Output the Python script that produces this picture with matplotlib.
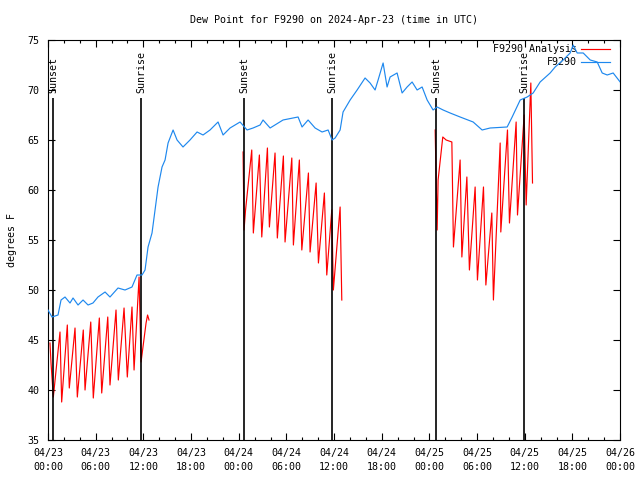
import datetime as dt
import matplotlib
matplotlib.use("Agg")
import matplotlib.pyplot as plt
import matplotlib.dates as mdates

start = dt.datetime(2024, 4, 23)

# observed dew point, hours after 04/23 00:00 UTC
obs_hours = [0.0, 0.5, 1.26, 1.64, 2.14, 2.77, 3.15, 3.78, 4.41, 5.04, 5.66,
             6.29, 7.18, 7.80, 8.81, 9.69, 10.57, 11.20, 11.83, 12.21, 12.59,
             13.09, 13.47, 13.85, 14.35, 14.73, 15.11, 15.74, 16.24, 16.99,
             17.87, 18.76, 19.51, 20.39, 21.40, 22.03, 22.91, 24.17, 25.05,
             25.81, 26.69, 27.06, 27.95, 29.58, 31.47, 31.97, 32.73, 33.61,
             34.49, 35.25, 35.75, 36.13, 36.76, 37.13, 38.02, 38.90, 39.90,
             40.53, 41.16, 41.54, 42.17, 42.67, 43.05, 43.93, 44.56, 45.19,
             45.82, 46.45, 47.08, 47.71, 48.46, 48.97, 49.72, 50.60, 51.86,
             53.50, 54.63, 55.64, 57.78, 58.41, 59.42, 60.30, 61.05, 61.93,
             63.19, 63.82, 64.83, 65.71, 66.09, 66.59, 67.35, 68.23, 69.11,
             69.74, 70.37, 71.12, 72.00]
obs_dew = [48.0, 47.3, 47.5, 49.0, 49.3, 48.7, 49.2, 48.5, 49.0, 48.5, 48.7,
           49.3, 49.8, 49.3, 50.2, 50.0, 50.3, 51.5, 51.5, 52.0, 54.3,
           55.7, 58.0, 60.3, 62.3, 63.0, 64.7, 66.0, 65.0, 64.3,
           65.0, 65.8, 65.5, 66.0, 66.8, 65.5, 66.2, 66.8, 66.0,
           66.2, 66.5, 67.0, 66.2, 67.0, 67.3, 66.3, 67.0, 66.2,
           65.8, 66.0, 65.0, 65.2, 66.0, 67.8, 69.0, 70.0, 71.2,
           70.7, 70.0, 71.0, 72.7, 70.3, 71.3, 71.7, 69.7, 70.3,
           70.8, 70.0, 70.3, 69.0, 68.0, 68.3, 68.0, 67.7, 67.3,
           66.8, 66.0, 66.2, 66.3, 67.3, 69.0, 69.3, 69.7, 70.8,
           71.7, 72.3, 73.0, 73.7, 74.5, 73.7, 73.7, 73.0, 72.8,
           71.7, 71.5, 71.7, 70.8]

# analysis runs (three nights)
ana1_hours = [0.25, 0.38, 0.67, 1.51, 1.72, 2.43, 2.68, 3.40, 3.69, 4.44, 4.66,
              5.38, 5.70, 6.46, 6.76, 7.52, 7.80, 8.56, 8.85, 9.57, 9.98,
              10.57, 10.83, 11.46, 11.71, 12.34, 12.53, 12.71]
ana1_dew = [44.7, 42.7, 39.3, 45.8, 38.8, 46.5, 40.2, 46.2, 39.3, 46.0, 40.0,
            46.8, 39.2, 47.2, 39.7, 47.3, 40.5, 48.0, 41.0, 48.2, 41.3,
            48.3, 42.0, 51.3, 42.8, 46.7, 47.5, 47.0]
ana2_hours = [24.55, 24.67, 24.86, 25.64, 25.84, 26.60, 26.90, 27.61, 27.86,
              28.57, 28.86, 29.62, 29.83, 30.68, 30.88, 31.63, 31.94, 32.77,
              32.98, 33.74, 34.03, 34.78, 35.08, 35.71, 35.91, 36.76, 36.97]
ana2_dew = [63.8, 56.0, 58.0, 64.0, 55.7, 63.5, 55.3, 64.2, 56.3,
            63.7, 55.2, 63.4, 54.8, 63.2, 54.5, 63.0, 54.0, 61.7,
            53.8, 60.7, 52.7, 59.7, 51.5, 58.0, 50.0, 58.3, 49.0]
ana3_hours = [48.72, 48.97, 49.09, 49.68, 50.10, 50.82, 51.02, 51.86, 52.08,
              52.71, 53.03, 53.75, 54.04, 54.80, 55.10, 55.85, 56.05, 56.90,
              56.98, 57.82, 58.07, 58.91, 59.08, 59.92, 60.17, 60.76, 60.97]
ana3_dew = [66.0, 56.0, 61.0, 65.3, 65.0, 64.8, 54.3, 63.0, 53.3,
            61.3, 52.0, 60.3, 51.0, 60.3, 50.5, 57.7, 49.0, 64.7,
            55.8, 66.0, 56.7, 66.8, 57.5, 67.5, 58.5, 70.7, 60.7]

sun_hours = [0.63, 11.71, 24.67, 35.75, 48.84, 59.92]
sun_labels = ["Sunset", "Sunrise", "Sunset", "Sunrise", "Sunset", "Sunrise"]


def to_time(hours):
    return [start + dt.timedelta(hours=h) for h in hours]


plt.rcParams['font.family'] = 'DejaVu Sans Mono'
plt.rcParams['font.size'] = 7.2

fig = plt.figure(figsize=(6.4, 4.8), dpi=100)
ax = fig.add_axes([0.075, 0.0833, 0.894, 0.8334])

red = '#ff0000'
blue = '#1e88ee'

for hh, vv in [(ana1_hours, ana1_dew), (ana2_hours, ana2_dew), (ana3_hours, ana3_dew)]:
    ax.plot(to_time(hh), vv, color=red, lw=0.85, zorder=2)

ax.vlines(to_time(sun_hours), 35, 69.2, color='black', lw=1.2, zorder=3)
for t, lab in zip(to_time(sun_hours), sun_labels):
    ax.text(t, 69.7, lab, rotation=90, ha='center', va='bottom', zorder=4)

ax.plot(to_time(obs_hours), obs_dew, color=blue, lw=0.85, zorder=5)

# key, gnuplot style: text right-justified, sample after it
ax.text(0.925, 0.9775, "F9290 Analysis", transform=ax.transAxes, ha='right', va='center')
ax.plot([0.932, 0.983], [0.9775, 0.9775], color=red, lw=0.85, transform=ax.transAxes)
ax.text(0.925, 0.945, "F9290", transform=ax.transAxes, ha='right', va='center')
ax.plot([0.932, 0.983], [0.945, 0.945], color=blue, lw=0.85, transform=ax.transAxes)

ax.set_xlim(start, start + dt.timedelta(days=3))
ax.set_ylim(35, 75)
ax.set_yticks(range(35, 76, 5))
ax.xaxis.set_major_locator(mdates.HourLocator(byhour=[0, 6, 12, 18]))
ax.xaxis.set_major_formatter(mdates.DateFormatter('%m/%d\n%H:%M'))
ax.xaxis.set_minor_locator(mdates.HourLocator(interval=2))
ax.tick_params(which='both', direction='in', top=True, right=True)
ax.tick_params(which='major', length=5, width=0.8, pad=6)
ax.tick_params(which='minor', length=2.5, width=0.8)
for lbl in ax.get_xticklabels():
    lbl.set_linespacing(1.4)

ax.set_ylabel("degrees F", labelpad=8)
ax.set_title("Dew Point for F9290 on 2024-Apr-23 (time in UTC)", fontsize=7.2, pad=12)

fig.savefig("out.png", dpi=100)
